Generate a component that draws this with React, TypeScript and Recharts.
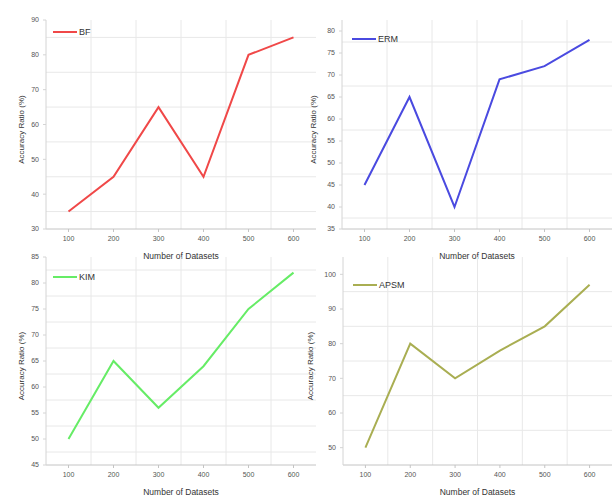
import { LineChart, Line, XAxis, YAxis, CartesianGrid } from 'recharts';

const datasets = [100, 200, 300, 400, 500, 600];
const xGrid = [150, 250, 350, 450, 550];

const bfValues = [35, 45, 65, 45, 80, 85];
const ermValues = [45, 65, 40, 69, 72, 78];
const kimValues = [50, 65, 56, 64, 75, 82];
const apsmValues = [50, 80, 70, 78, 85, 97];

const bfTicks = [30, 40, 50, 60, 70, 80, 90];
const ermTicks = [35, 40, 45, 50, 55, 60, 65, 70, 75, 80];
const kimTicks = [45, 50, 55, 60, 65, 70, 75, 80, 85];
const apsmTicks = [50, 60, 70, 80, 90, 100];

const bfGrid = [35, 45, 55, 65, 75, 85];
const ermGrid = [37.5, 42.5, 47.5, 52.5, 57.5, 62.5, 67.5, 72.5, 77.5];
const kimGrid = [47.5, 52.5, 57.5, 62.5, 67.5, 72.5, 77.5, 82.5];
const apsmGrid = [55, 65, 75, 85, 95];

const FONT = '"Liberation Sans", Arial, sans-serif';

type PanelProps = {
  left: number;
  top: number;
  width: number;
  height: number;
  margin: { top: number; right: number; bottom: number; left: number };
  values: number[];
  name: string;
  color: string;
  yDomain: [number, number];
  yTicks: number[];
  yGrid: number[];
  labelDx: number;
  legendDx: number;
  legendDy: number;
};

const Panel = (p: PanelProps) => {
  const data = datasets.map((n, i) => ({ n, v: p.values[i] }));
  const plotLeft = p.margin.left + 36;

  const yLabel = (props: any) => {
    const { x, y, height } = props.viewBox;
    const cx = x + p.labelDx;
    const cy = y + height / 2 + 5;
    return (
      <text
        x={cx}
        y={cy}
        transform={`rotate(-90 ${cx} ${cy})`}
        textAnchor="middle"
        dominantBaseline="central"
        fontSize={8}
        fill="#333"
        fontFamily={FONT}
      >
        Accuracy Ratio (%)
      </text>
    );
  };

  const xLabel = (props: any) => {
    const { x, y, width } = props.viewBox;
    return (
      <text
        x={x + width / 2}
        y={y + 27}
        textAnchor="middle"
        dominantBaseline="central"
        fontSize={8.5}
        fill="#333"
        fontFamily={FONT}
      >
        Number of Datasets
      </text>
    );
  };

  return (
    <div style={{ position: 'absolute', left: p.left, top: p.top }}>
      <LineChart width={p.width} height={p.height} data={data} margin={p.margin}>
        <CartesianGrid
          stroke="#e8e8e8"
          horizontalValues={p.yGrid}
          verticalValues={xGrid}
        />
        <XAxis
          dataKey="n"
          type="number"
          domain={[50, 650]}
          ticks={datasets}
          height={22}
          tickSize={3}
          tickMargin={4}
          axisLine={{ stroke: '#c4c4c4' }}
          tickLine={{ stroke: '#c4c4c4' }}
          tick={{ fontSize: 7, fill: '#555', fontFamily: FONT }}
          label={xLabel}
        />
        <YAxis
          type="number"
          domain={p.yDomain}
          ticks={p.yTicks}
          width={36}
          tickSize={3}
          tickMargin={4}
          axisLine={{ stroke: '#d4d4d4' }}
          tickLine={{ stroke: '#d4d4d4' }}
          tick={{ fontSize: 7, fill: '#555', fontFamily: FONT }}
          label={yLabel}
        />
        <Line
          dataKey="v"
          name={p.name}
          stroke={p.color}
          strokeWidth={2}
          dot={false}
          isAnimationActive={false}
        />
      </LineChart>
      <div
        style={{
          position: 'absolute',
          left: plotLeft + p.legendDx,
          top: p.margin.top + p.legendDy - 6,
          display: 'flex',
          alignItems: 'center',
          fontFamily: FONT,
          fontSize: 9,
          color: '#333',
          height: 12,
        }}
      >
        <svg width={24} height={12}>
          <line x1={0} y1={6} x2={24} y2={6} stroke={p.color} strokeWidth={2} />
        </svg>
        <span style={{ marginLeft: 2 }}>{p.name}</span>
      </div>
    </div>
  );
};

export default function App() {
  return (
    <div
      style={{
        position: 'absolute',
        left: 0,
        top: 0,
        width: 615,
        height: 497,
        background: '#fff',
      }}
    >
      <Panel
        left={0}
        top={0}
        width={320}
        height={262}
        margin={{ top: 20, right: 4, bottom: 11, left: 10 }}
        values={bfValues}
        name="BF"
        color="#f04848"
        yDomain={[30, 90]}
        yTicks={bfTicks}
        yGrid={bfGrid}
        labelDx={11}
        legendDx={7}
        legendDy={12}
      />
      <Panel
        left={300}
        top={0}
        width={315}
        height={262}
        margin={{ top: 20, right: 3, bottom: 11, left: 6 }}
        values={ermValues}
        name="ERM"
        color="#4a4ae0"
        yDomain={[35, 82.5]}
        yTicks={ermTicks}
        yGrid={ermGrid}
        labelDx={7}
        legendDx={10}
        legendDy={19}
      />
      <Panel
        left={0}
        top={248}
        width={320}
        height={249}
        margin={{ top: 9, right: 4, bottom: 10, left: 10 }}
        values={kimValues}
        name="KIM"
        color="#66ec66"
        yDomain={[45, 85]}
        yTicks={kimTicks}
        yGrid={kimGrid}
        labelDx={11}
        legendDx={7}
        legendDy={20}
      />
      <Panel
        left={300}
        top={248}
        width={315}
        height={249}
        margin={{ top: 9, right: 3, bottom: 10, left: 7 }}
        values={apsmValues}
        name="APSM"
        color="#a9ae52"
        yDomain={[45, 105]}
        yTicks={apsmTicks}
        yGrid={apsmGrid}
        labelDx={3}
        legendDx={10}
        legendDy={28}
      />
    </div>
  );
}
